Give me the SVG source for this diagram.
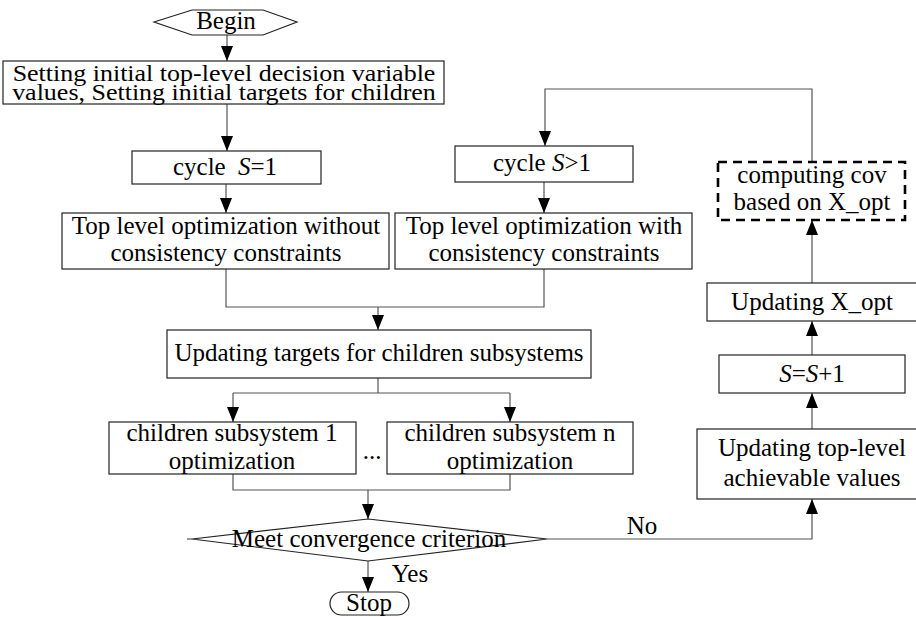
<svg xmlns="http://www.w3.org/2000/svg" width="916" height="617" viewBox="0 0 916 617">
<defs>
<marker id="ah" markerUnits="userSpaceOnUse" markerWidth="15" markerHeight="12" viewBox="0 0 15 12" refX="15" refY="6" orient="auto">
<path d="M0,0 L15,6 L0,12 Z" fill="#000"/>
</marker>
<style>
.b{fill:#fff;stroke:#222;stroke-width:1.2}
.d{fill:#fff;stroke:#000;stroke-width:2.6;stroke-dasharray:9,6}
.c{fill:none;stroke:#555;stroke-width:1.2}
.a{fill:none;stroke:#555;stroke-width:1.2;marker-end:url(#ah)}
text{font-family:"Liberation Serif","Times New Roman",serif;font-size:25px;fill:#000;text-anchor:middle}
.i{font-style:italic}
</style>
</defs>
<g id="connectors">
<path class="a" d="M227,35 V61"/>
<path class="a" d="M227,104 V151"/>
<path class="a" d="M226,184 V213"/>
<path class="a" d="M812,162 V89 H545 V146"/>
<path class="a" d="M544,182 V213"/>
<path class="c" d="M226,269 V307 H544 V269"/>
<path class="a" d="M378,307 V330"/>
<path class="c" d="M378,378 V393"/>
<path class="c" d="M233,393 H510"/>
<path class="a" d="M233,393 V422"/>
<path class="a" d="M510,393 V422"/>
<path class="c" d="M233,474 V490 H510 V474"/>
<path class="a" d="M368,490 V519"/>
<path class="a" d="M368,561 V592"/>
<path class="c" d="M187,539 H192"/>
<path class="a" d="M547,539 H812 V499"/>
<path class="a" d="M812,429 V393"/>
<path class="a" d="M812,355 V321"/>
<path class="a" d="M812,283 V220"/>
</g>
<g id="begin">
<polygon class="b" points="154,22 192,10 263,10 297,22 263,35 192,35"/>
<text x="226" y="29">Begin</text>
</g>
<g id="init">
<rect class="b" x="3" y="61" width="441" height="43"/>
<text transform="translate(224,81) scale(1,0.88)" style="font-size:26px">Setting initial top-level decision variable</text>
<text transform="translate(224,100) scale(1,0.88)" style="font-size:26px">values, Setting initial targets for children</text>
</g>
<g id="cycle1">
<rect class="b" x="132" y="151" width="189" height="33"/>
<text x="225" y="175">cycle <tspan dx="6" class="i">S</tspan>=1</text>
</g>
<g id="cycleN">
<rect class="b" x="455" y="146" width="178" height="36"/>
<text x="542" y="171">cycle <tspan class="i">S</tspan>&gt;1</text>
</g>
<g id="topWithout">
<rect class="b" x="62" y="213" width="327" height="56"/>
<text x="226" y="234">Top level optimization without</text>
<text x="226" y="261">consistency constraints</text>
</g>
<g id="topWith">
<rect class="b" x="395" y="213" width="297" height="56"/>
<text x="544" y="234">Top level optimization with</text>
<text x="544" y="261">consistency constraints</text>
</g>
<g id="updTargets">
<rect class="b" x="167" y="330" width="424" height="48"/>
<text x="379" y="361">Updating targets for children subsystems</text>
</g>
<g id="child1">
<rect class="b" x="109" y="422" width="247" height="52"/>
<text x="232" y="441">children subsystem 1</text>
<text x="232" y="469">optimization</text>
</g>
<g id="dots">
<text x="372" y="459">...</text>
</g>
<g id="childN">
<rect class="b" x="387" y="422" width="246" height="52"/>
<text x="510" y="441">children subsystem n</text>
<text x="510" y="469">optimization</text>
</g>
<g id="converge">
<polygon class="b" points="192,539 368,519 547,539 368,561"/>
<text x="369" y="547">Meet convergence criterion</text>
<text x="410" y="582">Yes</text>
<text x="642" y="534">No</text>
</g>
<g id="stop">
<rect class="b" x="330" y="592" width="79" height="23" rx="11.5"/>
<text x="369" y="611">Stop</text>
</g>
<g id="achievable">
<rect class="b" x="697" y="429" width="240" height="70"/>
<text x="812" y="456">Updating top-level</text>
<text x="812" y="486">achievable values</text>
</g>
<g id="sInc">
<rect class="b" x="719" y="355" width="186" height="38"/>
<text x="812" y="382"><tspan class="i">S</tspan>=<tspan class="i">S</tspan>+1</text>
</g>
<g id="xopt">
<rect class="b" x="707" y="283" width="230" height="38"/>
<text x="812" y="310">Updating X_opt</text>
</g>
<g id="cov">
<rect class="d" x="718" y="162" width="187" height="58"/>
<text x="812" y="183">computing cov</text>
<text x="812" y="210">based on X_opt</text>
</g>
</svg>
